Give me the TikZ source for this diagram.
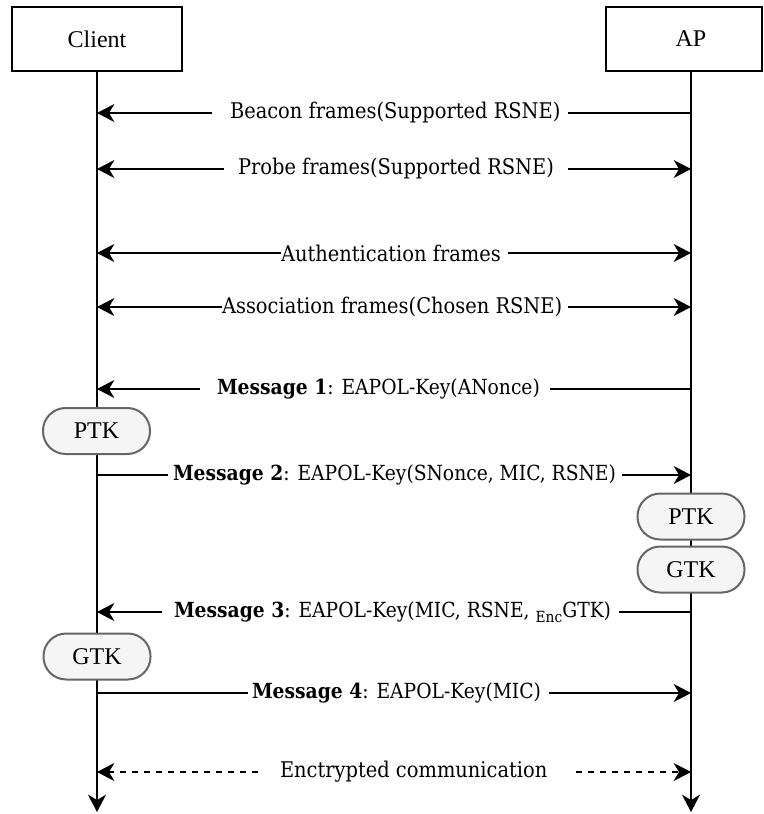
\documentclass[tikz,border=0pt]{standalone}
\usepackage{fontspec}
\setmainfont{DejaVu Serif Condensed}
\newfontfamily\boxfont{Liberation Serif}
\usetikzlibrary{arrows.meta}
\definecolor{pillfill}{HTML}{F5F5F5}
\definecolor{pillline}{HTML}{666666}
\newcommand{\encsub}[1]{\raisebox{-3.5pt}{\fontsize{11.5}{12}\selectfont #1}}
\begin{document}
\begin{tikzpicture}[x=0.75pt,y=-0.75pt,
  line width=1.5pt,
  >={Stealth[length=13pt,width=13.5pt,inset=4pt]},
  actor/.style={draw, line width=1.5pt, fill=white, inner sep=0pt,
    font=\boxfont\fontsize{18}{20}\selectfont},
  lifeline/.style={->, line width=1.6pt},
  msg/.style={line width=1.5pt},
  lbl/.style={fill=white, inner xsep=0pt, inner ysep=1pt, anchor=west,
    font=\fontsize{16.2}{18}\selectfont},
  keylbl/.style={lbl, font=\fontsize{15.6}{18}\selectfont},
  pill/.style={draw=pillline, fill=pillfill, line width=1.5pt,
    rounded corners=17pt, minimum width=80.25pt, minimum height=34.5pt,
    inner sep=0pt, font=\boxfont\fontsize{18}{20}\selectfont},
  encdash/.style={dash pattern=on 4.5pt off 4.5pt}
]
\useasboundingbox (0,0) rectangle (764,814);

% participants
\node[actor, minimum width=127.5pt, minimum height=48pt] (client) at (97,39) {Client};
\node[actor, minimum width=117pt, minimum height=48pt] (ap) at (684,39) {\hspace*{10.5pt}AP};

% lifeline ends
\coordinate (cEnd) at (97,812);
\coordinate (aEnd) at (691,812);
\draw[lifeline] (client.south) -- (cEnd);
\draw[lifeline] (ap.south -| aEnd) -- (aEnd);

% points on the lifelines
\foreach \n/\y in {1/113,2/169,3/253,4/307,5/389,6/475,7/612,8/693,9/772}{
  \coordinate (c\n) at (97,\y);
  \coordinate (a\n) at (691,\y);
}

% messages
\draw[msg,->] (a1) -- (c1);
\draw[msg,<->] (c2) -- (a2);
\draw[msg,<->] (c3) -- (a3);
\draw[msg,<->] (c4) -- (a4);
\draw[msg,->] (a5) -- (c5);
\draw[msg,->] (c6) -- (a6);
\draw[msg,->] (a7) -- (c7);
\draw[msg,->] (c8) -- (a8);
\draw[msg,<->,encdash] (c9) -- (a9);

% message labels
\node[lbl] (l1) at (211,113) {\hspace*{13.5pt}Beacon frames(Supported RSNE)\hspace*{6pt}};
\node[lbl] (l2) at (223,169) {\hspace*{10.5pt}Probe frames(Supported RSNE)\hspace*{10.5pt}};
\node[lbl] (l3) at (280,253) {Authentication frames\hspace*{5.25pt}};
\node[lbl] (l4) at (221,307) {Association frames(Chosen RSNE)\hspace*{4.5pt}};
\node[keylbl] (l5) at (199,389) {\hspace*{12.75pt}\textbf{Message 1}: EAPOL-Key(ANonce)\hspace*{7.5pt}};
\node[keylbl] (l6) at (167,475) {\hspace*{3.75pt}\textbf{Message 2}: EAPOL-Key(SNonce, MIC, RSNE)\hspace*{4.5pt}};
\node[keylbl] (l7) at (161,612) {\hspace*{9pt}\textbf{Message 3}: EAPOL-Key(MIC, RSNE, \encsub{Enc}GTK)\hspace*{6pt}};
\node[keylbl] (l8) at (247,693) {\hspace*{3pt}\textbf{Message 4}: EAPOL-Key(MIC)\hspace*{6pt}};
\node[lbl] (l9) at (259,772) {\hspace*{15pt}Enctrypted communication\hspace*{17.25pt}};

% derived keys
\node[pill] (cptk) at (96.5,431) {PTK};
\node[pill] (aptk) at (691,516.5) {PTK};
\node[pill] (agtk) at (691,569.5) {GTK};
\node[pill] (cgtk) at (97,656.5) {GTK};
\end{tikzpicture}
\end{document}
